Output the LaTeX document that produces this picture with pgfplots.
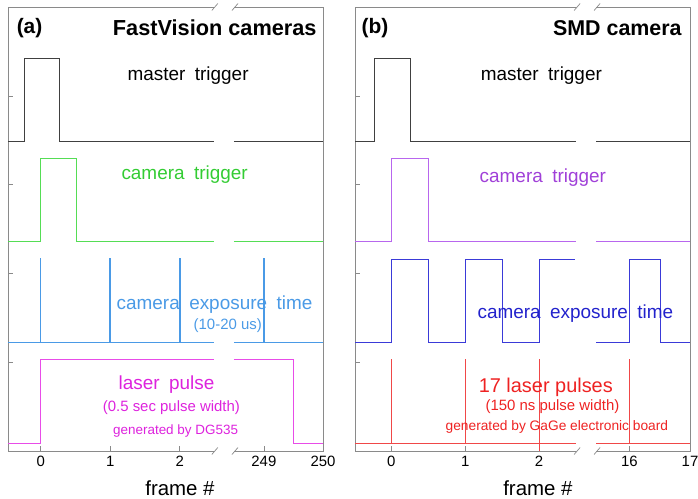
\documentclass[border=0pt]{standalone}
\usepackage{pgfplots}
\pgfplotsset{compat=1.18}
\usepackage{fontspec}
\setmainfont{Liberation Sans}
\definecolor{axiscol}{HTML}{8A8A8A}
\definecolor{mastercol}{HTML}{404040}
\definecolor{ctrigA}{HTML}{55DD55}
\definecolor{ctrigAt}{HTML}{33CC33}
\definecolor{expA}{HTML}{4A9AE6}
\definecolor{laserA}{HTML}{E84CE8}
\definecolor{laserAt}{HTML}{DD22DD}
\definecolor{ctrigB}{HTML}{B866EE}
\definecolor{ctrigBt}{HTML}{A040D8}
\definecolor{expB}{HTML}{3A3AD8}
\definecolor{expBt}{HTML}{2222CC}
\definecolor{laserB}{HTML}{F04848}
\definecolor{laserBt}{HTML}{EE2222}
\newcommand{\fbig}{\fontsize{19}{22}\selectfont}
\newcommand{\fmid}{\fontsize{15}{17}\selectfont}
\newcommand{\fsml}{\fontsize{13.5}{16}\selectfont}
\pgfplotsset{tdstyle/.style={
  scale only axis, height=444bp, ymin=0, ymax=4.44, clip=false,
  axis line style={axiscol, line width=0.7pt},
  tick align=inside, xtick pos=bottom, ytick pos=left,
  ytick={0.89,1.78,2.67,3.55}, yticklabels={},
  major tick length=5bp, tick style={axiscol, line width=0.7pt},
  /pgf/number format/assume math mode=true,
  xticklabel style={font=\fontsize{15}{17}\selectfont, yshift=-2bp},
  xlabel={frame \#},
  xlabel style={font=\fontsize{20.5}{23}\selectfont, at={(axis description cs:0.546,0)}, anchor=center, yshift=-37bp},
  every axis plot/.append style={line width=0.8pt},
  unbounded coords=jump,
}}
\begin{document}
\begin{tikzpicture}
\useasboundingbox (0,0) rectangle (698bp,499bp);
% ---------------- panel (a)
\begin{axis}[tdstyle, at={(8bp,48bp)}, anchor=south west, width=315bp,
  xmin=-0.47, xmax=4.06, xtick={0,1,2,3.21,4.06}, xticklabels={0,1,2,249,250}]
\addplot[mastercol] coordinates {(-0.47,3.10)(-0.23,3.10)(-0.23,3.93)(0.27,3.93)(0.27,3.10)(2.49,3.10)};
\addplot[mastercol] coordinates {(2.78,3.10)(4.06,3.10)};
\addplot[ctrigA] coordinates {(-0.47,2.10)(0,2.10)(0,2.93)(0.52,2.93)(0.52,2.10)(2.49,2.10)};
\addplot[ctrigA] coordinates {(2.78,2.10)(4.06,2.10)};
\addplot[expA] coordinates {(-0.47,1.09)(2.49,1.09)};
\addplot[expA] coordinates {(2.78,1.09)(4.06,1.09)};
\addplot[expA, line width=1.6pt] coordinates {(0,1.09)(0,1.93)(0,nan)(1,1.09)(1,1.93)(1,nan)(2,1.09)(2,1.93)(2,nan)(3.21,1.09)(3.21,1.93)};
\addplot[laserA] coordinates {(-0.47,0.08)(0,0.08)(0,0.92)(2.49,0.92)};
\addplot[laserA] coordinates {(2.78,0.92)(3.63,0.92)(3.63,0.08)(4.06,0.08)};
\node[inner sep=0, font=\bfseries\fontsize{21}{24}\selectfont] at (axis cs:-0.16,4.23) {(a)};
\node[inner sep=0, anchor=east, font=\bfseries\fontsize{21.8}{24}\selectfont] at (axis cs:3.97,4.23) {FastVision cameras};
\node[inner sep=0, font=\fbig, text=black] at (axis cs:2.12,3.75) {master\hspace{0.5em}trigger};
\node[inner sep=0, font=\fbig, text=ctrigAt] at (axis cs:2.07,2.76) {camera\hspace{0.5em}trigger};
\node[inner sep=0, font=\fbig, text=expA] at (axis cs:2.50,1.46) {camera\hspace{0.5em}exposure\hspace{0.5em}time};
\node[inner sep=0, font=\fmid, text=expA] at (axis cs:2.69,1.25) {(10-20 us)};
\node[inner sep=0, font=\fbig, text=laserAt] at (axis cs:1.81,0.66) {laser\hspace{0.5em}pulse};
\node[inner sep=0, font=\fmid, text=laserAt] at (axis cs:1.88,0.43) {(0.5 sec pulse width)};
\node[inner sep=0, font=\fsml, text=laserAt] at (axis cs:1.94,0.20) {generated by DG535};
\coordinate (aT1) at (axis cs:2.49,4.44);
\coordinate (aT2) at (axis cs:2.78,4.44);
\coordinate (aB1) at (axis cs:2.49,0);
\coordinate (aB2) at (axis cs:2.78,0);
\end{axis}
% ---------------- panel (b)
\begin{axis}[tdstyle, at={(355bp,48bp)}, anchor=south west, width=335bp,
  xmin=-0.49, xmax=4.04, xtick={0,1,2,3.22,4.04}, xticklabels={0,1,2,16,17}]
\addplot[mastercol] coordinates {(-0.49,3.10)(-0.23,3.10)(-0.23,3.93)(0.26,3.93)(0.26,3.10)(2.50,3.10)};
\addplot[mastercol] coordinates {(2.77,3.10)(4.04,3.10)};
\addplot[ctrigB] coordinates {(-0.49,2.10)(0,2.10)(0,2.93)(0.5,2.93)(0.5,2.10)(2.50,2.10)};
\addplot[ctrigB] coordinates {(2.77,2.10)(4.04,2.10)};
\addplot[expB] coordinates {(-0.49,1.09)(0,1.09)(0,1.92)(0.5,1.92)(0.5,1.09)(1,1.09)(1,1.92)(1.5,1.92)(1.5,1.09)(2,1.09)(2,1.92)(2.48,1.92)};
\addplot[expB] coordinates {(2.77,1.09)(3.22,1.09)(3.22,1.92)(3.64,1.92)(3.64,1.09)(4.04,1.09)};
\addplot[laserB] coordinates {(-0.49,0.08)(2.50,0.08)};
\addplot[laserB] coordinates {(2.77,0.08)(4.04,0.08)};
\addplot[laserB] coordinates {(0,0.08)(0,0.92)(0,nan)(1,0.08)(1,0.92)(1,nan)(2,0)(2,0.92)(2,nan)(3.22,0.08)(3.22,0.92)};
\node[inner sep=0, font=\bfseries\fontsize{21}{24}\selectfont] at (axis cs:-0.22,4.23) {(b)};
\node[inner sep=0, anchor=east, font=\bfseries\fontsize{21.5}{24}\selectfont] at (axis cs:3.93,4.23) {SMD camera};
\node[inner sep=0, font=\fbig, text=black] at (axis cs:2.03,3.75) {master\hspace{0.5em}trigger};
\node[inner sep=0, font=\fbig, text=ctrigBt] at (axis cs:2.05,2.73) {camera\hspace{0.5em}trigger};
\node[inner sep=0, font=\fbig, text=expBt] at (axis cs:2.49,1.37) {camera\hspace{0.5em}exposure\hspace{0.5em}time};
\node[inner sep=0, font=\fontsize{20}{23}\selectfont, text=laserBt] at (axis cs:2.09,0.64) {17 laser pulses};
\node[inner sep=0, font=\fmid, text=laserBt] at (axis cs:2.18,0.44) {(150 ns pulse width)};
\node[inner sep=0, font=\fontsize{13.8}{16}\selectfont, text=laserBt] at (axis cs:2.24,0.24) {generated by GaGe electronic board};
\coordinate (bT1) at (axis cs:2.50,4.44);
\coordinate (bT2) at (axis cs:2.77,4.44);
\coordinate (bB1) at (axis cs:2.50,0);
\coordinate (bB2) at (axis cs:2.77,0);
\end{axis}
% ---------------- axis breaks
\foreach \p in {aT,aB,bT,bB}{
  \fill[white] ([yshift=-2.5bp]\p1) rectangle ([yshift=2.5bp]\p2);
  \draw[axiscol, line width=0.7pt] ([xshift=-2bp,yshift=-3.5bp]\p1) -- ([xshift=4bp,yshift=3.5bp]\p1);
  \draw[axiscol, line width=0.7pt] ([xshift=-2bp,yshift=-3.5bp]\p2) -- ([xshift=4bp,yshift=3.5bp]\p2);
}
\end{tikzpicture}
\end{document}
